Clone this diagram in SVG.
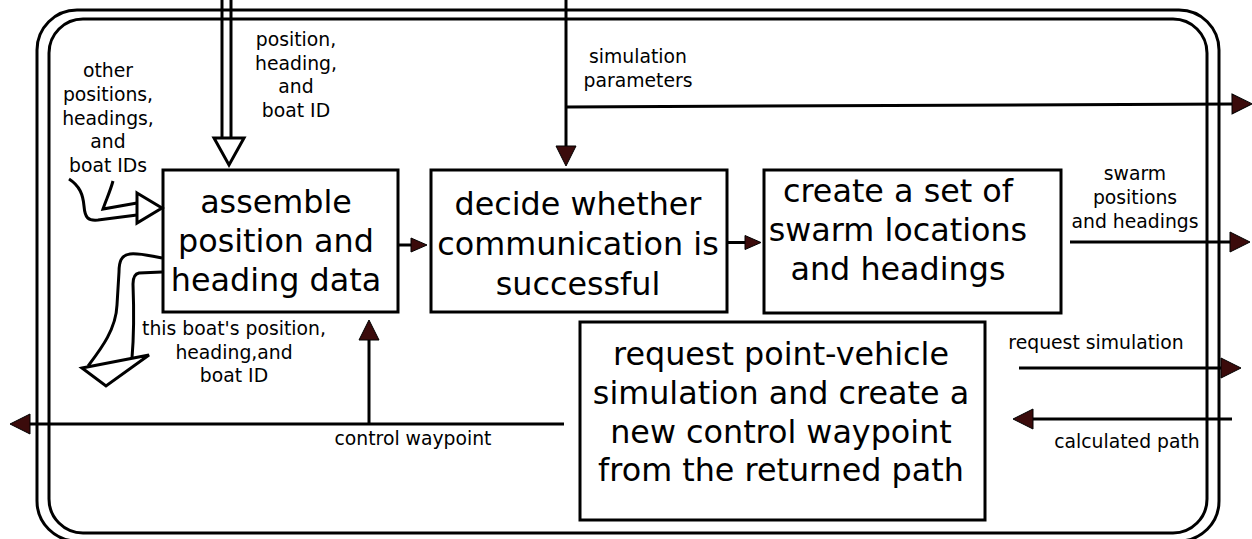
<svg xmlns="http://www.w3.org/2000/svg" width="1252" height="539" viewBox="0 0 1252 539">
  <style>
    .frame { fill: none; stroke: #000; stroke-width: 3; }
    .box { fill: #fff; stroke: #000; stroke-width: 3; }
    .title { font-family: "DejaVu Sans", "Liberation Sans", sans-serif; font-size: 31.8px; text-anchor: middle; fill: #000; }
    .label { font-family: "DejaVu Sans", "Liberation Sans", sans-serif; font-size: 18.8px; text-anchor: middle; fill: #000; }
    .wire { fill: none; stroke: #000; stroke-width: 3; }
    .hollow { fill: none; stroke: #000; stroke-width: 3; stroke-linejoin: miter; }
    .hollow-head { fill: #fff; stroke: #000; stroke-width: 3; stroke-linejoin: miter; }
  </style>
  <defs>
    <marker id="tri-l" viewBox="0 0 20 20" refX="1" refY="10" markerWidth="20" markerHeight="20" markerUnits="userSpaceOnUse" orient="auto" overflow="visible">
      <path d="M0,0 L20,10 L0,20 Z" fill="#3b0b0b" stroke="#000" stroke-width="1"/>
    </marker>
    <marker id="tri-s" viewBox="0 0 16 14" refX="1" refY="7" markerWidth="16" markerHeight="14" markerUnits="userSpaceOnUse" orient="auto" overflow="visible">
      <path d="M0,0 L16,7 L0,14 Z" fill="#3b0b0b" stroke="#000" stroke-width="1"/>
    </marker>
  </defs>

  <rect width="1252" height="539" fill="#fff"/>

  <!-- double rounded frame of the module -->
  <g id="frame">
    <rect class="frame" x="37" y="10" width="1182" height="531" rx="40" ry="40"/>
    <rect class="frame" x="49" y="19" width="1158" height="514" rx="34" ry="34"/>
  </g>

  <!-- processing steps -->
  <g id="assemble">
    <rect class="box" x="163" y="170" width="235" height="142"/>
    <text class="title" x="276" y="213">assemble</text>
    <text class="title" x="276" y="252">position and</text>
    <text class="title" x="276" y="291">heading data</text>
  </g>
  <g id="decide">
    <rect class="box" x="431" y="170" width="296" height="142"/>
    <text class="title" x="578" y="215">decide whether</text>
    <text class="title" x="578" y="255">communication is</text>
    <text class="title" x="578" y="295">successful</text>
  </g>
  <g id="swarm">
    <rect class="box" x="764" y="170" width="297" height="143"/>
    <text class="title" x="898" y="202">create a set of</text>
    <text class="title" x="898" y="241">swarm locations</text>
    <text class="title" x="898" y="280">and headings</text>
  </g>
  <g id="simulate">
    <rect class="box" x="580" y="322" width="405" height="198"/>
    <text class="title" x="781" y="365">request point-vehicle</text>
    <text class="title" x="781" y="404">simulation and create a</text>
    <text class="title" x="781" y="442.5">new control waypoint</text>
    <text class="title" x="781" y="481">from the returned path</text>
  </g>

  <g id="connectors">
    <!-- own position, heading and boat ID (double-line input) -->
    <line class="wire" x1="222" y1="0" x2="222" y2="138"/>
    <line class="wire" x1="231" y1="0" x2="231" y2="138"/>
    <polygon class="hollow-head" points="214,138 244,138 229,165"/>

    <!-- other boats' data (hollow curved input) -->
    <path class="hollow" d="M113,181 C110,192 106,200 103,209 L137,203"/>
    <path class="hollow" d="M69,179 C80,186 83,195 84,206 C85,218 88,221 98,220 L137,215"/>
    <polygon class="hollow-head" points="137,193 162,208 137,223"/>

    <!-- this boat's data (hollow curved output) -->
    <path class="hollow" d="M162,258 C150,256 140,253 130,254 C121,255 119,262 119,272 L117,305 C116,330 100,350 88,366"/>
    <path class="hollow" d="M162,272 L139,273 C134,274 133,278 133,284 C134,310 134,335 132,358"/>
    <polygon class="hollow-head" points="82,368 149,355 106,386"/>

    <!-- simulation parameters -->
    <path class="wire" d="M566,0 L566,147" marker-end="url(#tri-l)"/>
    <path class="wire" d="M566,107 L1233,104" marker-end="url(#tri-l)"/>

    <!-- step to step -->
    <path class="wire" d="M398,245 L412,245" marker-end="url(#tri-s)"/>
    <path class="wire" d="M727,242.5 L746,242.5" marker-end="url(#tri-s)"/>

    <!-- swarm output -->
    <path class="wire" d="M1070,242 L1231,242" marker-end="url(#tri-l)"/>

    <!-- simulation request / reply -->
    <path class="wire" d="M1019,368 L1222,368" marker-end="url(#tri-l)"/>
    <path class="wire" d="M1232,419 L1032,419" marker-end="url(#tri-l)"/>

    <!-- control waypoint -->
    <path class="wire" d="M564,424 L29,424" marker-end="url(#tri-l)"/>
    <path class="wire" d="M369,424 L369,339" marker-end="url(#tri-l)"/>
  </g>

  <g id="labels">
    <text class="label" x="296" y="46">position,</text>
    <text class="label" x="296" y="69.5">heading,</text>
    <text class="label" x="296" y="93">and</text>
    <text class="label" x="296" y="116.5">boat ID</text>

    <text class="label" x="108" y="77">other</text>
    <text class="label" x="108" y="101">positions,</text>
    <text class="label" x="108" y="124.5">headings,</text>
    <text class="label" x="108" y="148">and</text>
    <text class="label" x="108" y="172">boat IDs</text>

    <text class="label" x="638" y="63">simulation</text>
    <text class="label" x="638" y="87">parameters</text>

    <text class="label" x="1135" y="180">swarm</text>
    <text class="label" x="1135" y="204">positions</text>
    <text class="label" x="1135" y="227.5">and headings</text>

    <text class="label" x="234" y="335">this boat's position,</text>
    <text class="label" x="234" y="358.5">heading,and</text>
    <text class="label" x="234" y="382">boat ID</text>

    <text class="label" x="1096" y="349">request simulation</text>
    <text class="label" x="1127" y="447.5">calculated path</text>
    <text class="label" x="413" y="445">control waypoint</text>
  </g>
</svg>
